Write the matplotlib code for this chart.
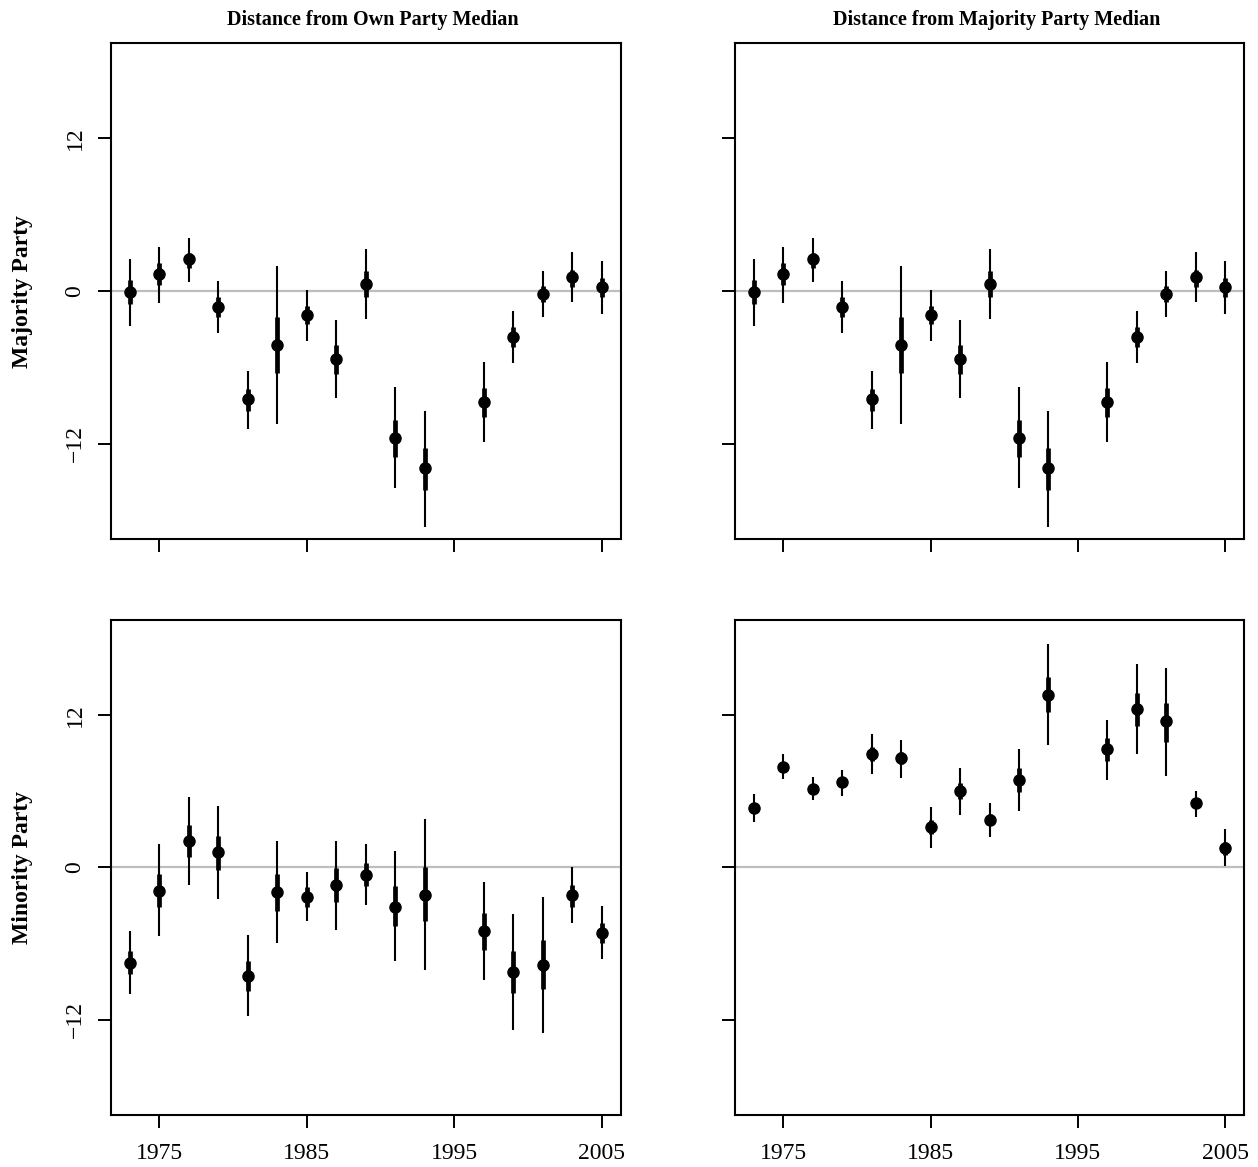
import matplotlib
matplotlib.use('Agg')
import matplotlib.pyplot as plt
import numpy as np

plt.rcParams['font.family'] = ['Liberation Serif', 'DejaVu Serif']

years = [1973, 1975, 1977, 1979, 1981, 1983, 1985, 1987, 1989, 1991, 1993, 1997, 1999, 2001, 2003, 2005]

# majority party (distance from own median == distance from majority median)
maj_est = [-0.05, 1.35, 2.5, -1.25, -8.5, -4.2, -1.9, -5.3, 0.6, -11.5, -13.9, -8.7, -3.6, -0.2, 1.1, 0.3]
maj_lo95 = [-2.7, -0.9, 0.75, -3.3, -10.8, -10.4, -3.9, -8.4, -2.2, -15.5, -18.5, -11.85, -5.65, -2.0, -0.85, -1.8]
maj_hi95 = [2.5, 3.5, 4.2, 0.8, -6.25, 2.0, 0.1, -2.3, 3.3, -7.5, -9.4, -5.6, -1.55, 1.6, 3.05, 2.35]
maj_lo50 = [-1.0, 0.5, 1.8, -2.0, -9.4, -6.4, -2.6, -6.5, -0.45, -13.0, -15.6, -9.9, -4.4, -0.85, 0.35, -0.45]
maj_hi50 = [0.9, 2.2, 3.0, -0.45, -7.7, -2.0, -1.2, -4.2, 1.6, -10.1, -12.3, -7.6, -2.8, 0.4, 1.65, 1.0]

# minority party, distance from own party median
min_own_est = [-7.5, -1.85, 2.05, 1.2, -8.55, -1.95, -2.3, -1.35, -0.6, -3.1, -2.15, -5.0, -8.2, -7.65, -2.2, -5.15]
min_own_lo95 = [-9.95, -5.4, -1.4, -2.5, -11.7, -5.95, -4.25, -4.9, -2.95, -7.4, -8.1, -8.9, -12.8, -13.0, -4.4, -7.25]
min_own_hi95 = [-5.0, 1.8, 5.55, 4.85, -5.3, 2.05, -0.35, 2.1, 1.8, 1.25, 3.8, -1.15, -3.7, -2.3, 0.0, -3.05]
min_own_lo50 = [-8.4, -3.15, 0.8, -0.2, -9.7, -3.4, -3.1, -2.7, -1.5, -4.65, -4.25, -6.5, -9.9, -9.6, -3.1, -5.95]
min_own_hi50 = [-6.6, -0.5, 3.3, 2.5, -7.35, -0.5, -1.55, -0.05, 0.35, -1.5, 0.0, -3.6, -6.6, -5.75, -1.35, -4.4]

# minority party, distance from majority party median
min_maj_est = [4.65, 7.9, 6.2, 6.7, 8.95, 8.6, 3.15, 6.0, 3.75, 6.9, 13.6, 9.3, 12.5, 11.5, 5.05, 1.5]
min_maj_lo95 = [3.55, 6.95, 5.3, 5.6, 7.35, 7.05, 1.5, 4.1, 2.4, 4.4, 9.65, 6.9, 8.95, 7.2, 4.0, 0.1]
min_maj_hi95 = [5.8, 8.9, 7.1, 7.7, 10.5, 10.0, 4.75, 7.8, 5.05, 9.3, 17.55, 11.6, 16.0, 15.7, 6.0, 3.0]
min_maj_lo50 = [4.25, 7.55, 5.9, 6.35, 8.4, 8.1, 2.6, 5.35, 3.3, 5.9, 12.2, 8.35, 11.1, 9.9, 4.7, 1.0]
min_maj_hi50 = [5.05, 8.25, 6.5, 7.05, 9.5, 9.1, 3.7, 6.65, 4.2, 7.8, 15.0, 10.2, 13.75, 12.97, 5.4, 2.0]

col_titles = ['Distance from Own Party Median', 'Distance from Majority Party Median']
row_labels = ['Majority Party', 'Minority Party']
xticks = [1975, 1985, 1995, 2005]
yticks = [-12, 0, 12]

W, H = 1258, 1167
fig = plt.figure(figsize=(W / 100, H / 100), dpi=100)

lefts = [111, 735]
rights = [620.5, 1244]
tops = [43.3, 620]
bottoms = [539, 1114.7]

panels = [
    [(maj_est, maj_lo95, maj_hi95, maj_lo50, maj_hi50),
     (maj_est, maj_lo95, maj_hi95, maj_lo50, maj_hi50)],
    [(min_own_est, min_own_lo95, min_own_hi95, min_own_lo50, min_own_hi50),
     (min_maj_est, min_maj_lo95, min_maj_hi95, min_maj_lo50, min_maj_hi50)],
]

for r in range(2):
    for c in range(2):
        l, rt = lefts[c] / W, rights[c] / W
        b, t = 1 - bottoms[r] / H, 1 - tops[r] / H
        ax = fig.add_axes([l, b, rt - l, t - b])
        est, lo95, hi95, lo50, hi50 = panels[r][c]
        ax.axhline(0, color='#bebebe', lw=1.6, zorder=1)
        ax.vlines(years, lo95, hi95, color='black', lw=1.5, zorder=2)
        ax.vlines(years, lo50, hi50, color='black', lw=3.4, zorder=3)
        ax.plot(years, est, 'o', color='black', ms=8, zorder=4)
        ax.set_xlim(1971.72, 2006.28)
        ax.set_ylim(-19.47, 19.47)
        ax.set_xticks(xticks)
        ax.set_yticks(yticks)
        ax.tick_params(direction='out', length=9.4, width=1.4, labelsize=17)
        ax.tick_params(axis='x', pad=11)
        ax.tick_params(axis='y', pad=9, labelrotation=90)
        for lab in ax.get_yticklabels():
            lab.set_va('center')
        if r == 0:
            ax.set_xticklabels([])
        else:
            ax.set_xticklabels(['1975', '1985', '1995', '2005'])
        if c == 1:
            ax.set_yticklabels([])
        else:
            ax.set_yticklabels(['\u221212', '0', '12'])
        for s in ax.spines.values():
            s.set_linewidth(1.5)
        if r == 0:
            ax.text(0.5 + 7 / (rights[c] - lefts[c]), 1 + 18 / (bottoms[r] - tops[r]), col_titles[c],
                    transform=ax.transAxes, ha='center', va='baseline',
                    fontsize=14.5, fontweight='bold')
        if c == 0:
            fig.text(23 / W, (b + t) / 2, row_labels[r], rotation=90, ha='center', va='center',
                     fontsize=17, fontweight='bold')

fig.savefig('out.png', dpi=100)
